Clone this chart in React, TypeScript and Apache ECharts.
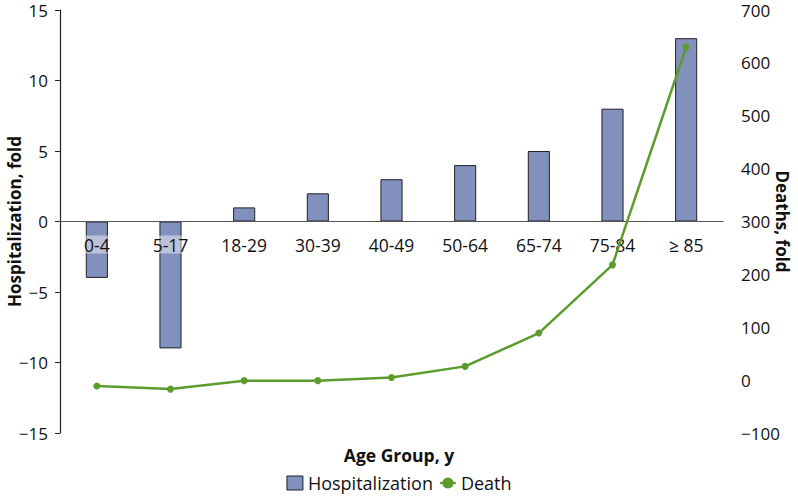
import React, { useEffect, useRef } from "react";
import * as echarts from "echarts";

const categories = ["0-4", "5-17", "18-29", "30-39", "40-49", "50-64", "65-74", "75-84", "≥ 85"];
const hospitalization = [-4, -9, 1, 2, 3, 4, 5, 8, 13];
const deaths = [-11, -17, -1, -1, 5, 26, 89, 218, 630];
const leftTicks = { min: -15, max: 15, interval: 5 };
const rightTicks = { min: -100, max: 700, interval: 100 };

const FONT = "'Open Sans', 'Noto Sans', sans-serif";
const minus = (v: number) => String(v).replace("-", "\u2212");

const GRID_TOP = 10;
const GRID_BOTTOM = 65;
const H = 498;

export default function App() {
  const ref = useRef<HTMLDivElement>(null);
  useEffect(() => {
    if (!ref.current) return;
    const chart = echarts.init(ref.current, undefined, { renderer: "svg" });
    const gridH = H - GRID_TOP - GRID_BOTTOM;
    const zeroFromBottom = gridH * (0 - leftTicks.min) / (leftTicks.max - leftTicks.min);
    chart.setOption({
      animation: false,
      textStyle: { fontFamily: FONT },
      title: {
        text: "Age Group, y",
        left: "center",
        top: 441,
        textStyle: { fontFamily: FONT, fontSize: 17.5, fontWeight: "bold", color: "#111" },
      },
      legend: {
        bottom: 1,
        left: "center",
        itemGap: 6,
        itemWidth: 16,
        itemHeight: 14,
        textStyle: { fontFamily: FONT, fontSize: 18, color: "#111" },
        data: [
          { name: "Hospitalization", icon: "rect", itemStyle: { color: "#8290BE", borderColor: "#222", borderWidth: 1 } },
          { name: "Death" },
        ],
      },
      grid: {
        left: 60,
        right: 75,
        top: GRID_TOP,
        bottom: GRID_BOTTOM,
        containLabel: false,
        outerBoundsMode: "none",
      },
      xAxis: {
        type: "category",
        data: categories,
        z: 10,
        offset: -zeroFromBottom,
        axisLine: { onZero: false, lineStyle: { color: "#555", width: 1.2 } },
        axisTick: { show: false },
        axisLabel: {
          margin: 14,
          fontSize: 17.5,
          color: "#111",
          fontFamily: FONT,
          backgroundColor: "rgba(255,255,255,0.45)",
          padding: [0, 2],
        },
        splitLine: { show: false },
      },
      yAxis: [
        {
          type: "value",
          ...leftTicks,
          name: "Hospitalization, fold",
          nameLocation: "middle",
          nameMoveOverlap: false,
          nameGap: 37,
          nameTextStyle: { fontFamily: FONT, fontSize: 17, fontWeight: "bold", color: "#111" },
          axisLine: { show: true, onZero: false, lineStyle: { color: "#222", width: 1.2 } },
          axisTick: { show: true, inside: false, length: 5, lineStyle: { color: "#222" } },
          axisLabel: { fontSize: 17, color: "#111", margin: 12, formatter: minus, fontFamily: FONT },
          splitLine: { show: false },
        },
        {
          type: "value",
          ...rightTicks,
          position: "right",
          name: "Deaths, fold",
          nameLocation: "middle",
          nameMoveOverlap: false,
          nameRotate: -90,
          nameGap: 51,
          nameTextStyle: { fontFamily: FONT, fontSize: 17, fontWeight: "bold", color: "#111" },
          axisLine: { show: false },
          axisTick: { show: false },
          axisLabel: { fontSize: 17, color: "#111", margin: 18, formatter: minus, fontFamily: FONT },
          splitLine: { show: false },
        },
      ],
      series: [
        {
          name: "Hospitalization",
          type: "bar",
          data: hospitalization,
          barWidth: "30%",
          itemStyle: { color: "#8290BE", borderColor: "#222", borderWidth: 1 },
          z: 2,
        },
        {
          name: "Death",
          type: "line",
          yAxisIndex: 1,
          data: deaths,
          symbol: "circle",
          symbolSize: 7,
          lineStyle: { color: "#5B9C2C", width: 2.5 },
          itemStyle: { color: "#5B9C2C" },
          z: 12,
        },
      ],
    });
    return () => chart.dispose();
  }, []);
  return <div ref={ref} style={{ position: "absolute", left: 0, top: 0, width: 798, height: H }} />;
}
